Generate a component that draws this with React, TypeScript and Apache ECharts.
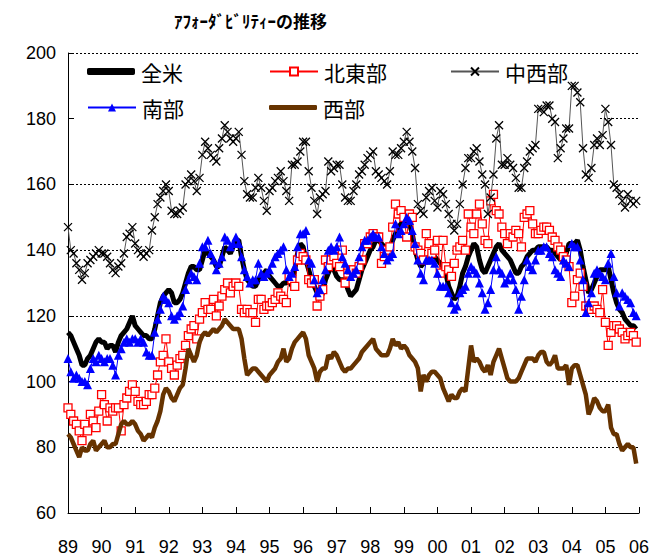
import React, { useEffect, useRef } from "react";
import * as echarts from "echarts";

const START_YEAR = 1989;
const END_YEAR = 2006;
const monthCount = 204;
const months: number[] = Array.from({ length: monthCount }, (_, i) => START_YEAR + i / 12);

const yTicks = { min: 60, max: 200, interval: 20 };

const seriesNames = ["全米", "北東部", "中西部", "南部", "西部"];

const us = [
  115, 114, 112, 110, 108, 105, 105, 107, 108, 110, 112, 113,
  112, 112, 110, 111, 111, 109, 112, 114, 115, 116, 118, 120,
  117, 116, 115, 114, 114, 113, 113, 116, 120, 124, 126, 127,
  128, 127, 124, 124, 125, 127, 130, 133, 135, 135, 134, 134,
  137, 140, 139, 138, 137, 135, 135, 138, 141, 140, 139, 141,
  143, 143, 138, 134, 131, 130, 129, 129, 131, 132, 133, 134,
  132, 131, 130, 129, 129, 130, 130, 131, 129, 134, 139, 142,
  141, 137, 134, 131, 129, 127, 125, 127, 131, 133, 135, 134,
  132, 131, 131, 131, 128, 126, 127, 128, 131, 134, 136, 138,
  140, 141, 143, 143, 142, 141, 141, 141, 143, 145, 147, 148,
  149, 149, 148, 145, 140, 137, 135, 136, 137, 138, 138, 138,
  137, 136, 135, 133, 129, 127, 125, 126, 129, 133, 135, 138,
  140, 142, 141, 137, 134, 133, 135, 137, 139, 141, 142, 140,
  139, 138, 137, 135, 133, 133, 135, 136, 138, 139, 140, 140,
  141, 141, 141, 141, 140, 140, 139, 138, 137, 138, 139, 142,
  142, 142, 143, 140, 135, 131, 127, 128, 130, 132, 134, 134,
  134, 135, 131, 127, 124, 122, 121, 119, 118, 117, 117, 116,
];

const northeast = [
  92, 90, 88, 87, 85, 82, 87, 85, 90, 88, 86, 91,
  96, 93, 88, 92, 91, 92, 92, 85, 93, 95, 97, 99,
  97, 94, 93, 93, 94, 96, 96, 98, 102, 106, 108, 113,
  106, 104, 102, 105, 107, 108, 111, 114, 116, 117, 113, 119,
  121, 124, 122, 122, 125, 120, 123, 126, 128, 130, 127, 129,
  130, 129, 122, 121, 122, 121, 121, 118, 125, 125, 122, 123,
  123, 124, 125, 127, 126, 125, 124, 132, 131, 129, 137, 139,
  138, 137, 131, 130, 131, 123, 126, 128, 137, 135, 137, 138,
  136, 135, 140, 130, 133, 134, 134, 133, 135, 137, 142, 142,
  144, 145, 144, 144, 136, 138, 140, 141, 147, 154, 151, 152,
  150, 144, 151, 150, 141, 140, 139, 137, 145, 142, 139, 140,
  143, 133, 143, 135, 134, 132, 136, 140, 141, 143, 140, 151,
  147, 145, 151, 154, 148, 143, 142, 155, 157, 152, 151, 147,
  145, 142, 145, 144, 146, 145, 141, 150, 151, 152, 148, 145,
  145, 146, 147, 147, 146, 144, 143, 141, 140, 138, 137, 135,
  124, 126, 131, 133, 129, 123, 122, 122, 123, 122, 121, 128,
  118, 111, 115, 117, 117, 116, 115, 113, 114, 115, 114, 112,
];

const midwest = [
  147, 140, 139, 136, 134, 131, 133, 136, 137, 138, 139, 140,
  139, 139, 138, 136, 134, 133, 135, 136, 139, 144, 145, 147,
  142, 140, 139, 138, 139, 140, 146, 150, 154, 156, 158, 160,
  158, 152, 151, 151, 152, 153, 160, 161, 163, 161, 158, 162,
  169, 173, 171, 169, 168, 167, 171, 174, 178, 176, 174, 173,
  174, 176, 169, 161, 157, 156, 156, 159, 162, 159, 155, 152,
  158, 159, 161, 162, 164, 161, 158, 155, 166, 166, 167, 170,
  173, 173, 164, 159, 155, 151, 156, 157, 158, 167, 164, 165,
  166, 166, 160, 156, 155, 155, 158, 160, 163, 164, 166, 168,
  169, 170, 164, 163, 162, 161, 160, 164, 170, 169, 169, 171,
  173, 176, 173, 170, 165, 154, 152, 151, 156, 158, 159, 155,
  153, 158, 157, 154, 151, 148, 146, 148, 154, 160, 165, 168,
  168, 170, 171, 167, 163, 160, 151, 156, 163, 174, 178, 166,
  166, 168, 166, 165, 162, 159, 159, 165, 167, 170, 171, 172,
  183, 183, 182, 184, 184, 180, 179, 168, 171, 174, 177, 177,
  190, 190, 188, 185, 171, 163, 162, 165, 172, 174, 172, 175,
  183, 179, 172, 160, 159, 157, 155, 153, 157, 155, 154, 155,
];

const south = [
  107, 103, 101, 102, 101, 100, 100, 99, 104, 107, 106, 108,
  107, 106, 107, 107, 105, 102, 108, 110, 112, 113, 112, 113,
  113, 112, 113, 112, 109, 108, 108, 115, 119, 122, 126, 125,
  124, 120, 119, 120, 121, 123, 128, 131, 133, 132, 131, 136,
  141, 141, 143, 139, 137, 134, 136, 138, 144, 143, 141, 142,
  144, 142, 138, 134, 132, 130, 131, 131, 136, 133, 132, 133,
  134, 136, 138, 139, 140, 141, 134, 132, 133, 135, 141, 145,
  145, 146, 137, 136, 131, 127, 128, 131, 134, 140, 141, 140,
  141, 144, 138, 136, 134, 132, 133, 134, 138, 141, 143, 143,
  144, 145, 144, 144, 141, 139, 137, 138, 139, 148, 145, 146,
  148, 150, 149, 146, 142, 137, 133, 131, 137, 137, 137, 136,
  133, 129, 129, 129, 127, 124, 122, 123, 127, 128, 129, 133,
  135, 134, 133, 130, 127, 122, 124, 128, 134, 138, 134, 133,
  130, 131, 133, 131, 128, 122, 126, 131, 137, 135, 134, 137,
  140, 140, 141, 141, 139, 138, 134, 133, 132, 137, 136, 135,
  142, 141, 141, 137, 131, 121, 124, 127, 133, 134, 133, 132,
  131, 136, 139, 132, 127, 123, 127, 126, 125, 124, 121, 120,
];

const west = [
  84, 83, 81, 79, 77, 80, 79, 79, 81, 82, 79, 80,
  81, 82, 80, 80, 81, 81, 84, 87, 88, 87, 87, 88,
  87, 85, 84, 82, 83, 84, 83, 86, 88, 91, 96, 98,
  97, 95, 94, 96, 98, 99, 104, 110, 108, 106, 108, 112,
  114, 115, 114, 115, 116, 115, 116, 117, 119, 118, 117, 116,
  116, 116, 113, 107, 102, 103, 104, 104, 103, 102, 101, 100,
  102, 103, 104, 106, 107, 110, 106, 107, 110, 112, 113, 114,
  115, 113, 108, 106, 104, 100, 103, 104, 104, 108, 107, 109,
  108, 106, 104, 103, 104, 104, 105, 106, 107, 109, 110, 111,
  112, 113, 110, 109, 108, 108, 108, 110, 113, 111, 112, 110,
  111, 110, 108, 107, 106, 104, 97, 102, 100, 102, 103, 103,
  102, 101, 98, 96, 94, 96, 95, 95, 97, 98, 97, 104,
  111, 106, 107, 106, 104, 103, 105, 102, 106, 108, 110, 107,
  104, 101, 100, 100, 100, 101, 103, 105, 107, 107, 107, 106,
  108, 109, 109, 106, 105, 106, 108, 104, 104, 104, 105, 99,
  104, 105, 105, 102, 99, 96, 90, 92, 95, 94, 92, 91,
  91, 93, 86, 84, 84, 81, 79, 80, 81, 80, 80, 75,
];

const titleText = "ｱﾌｫｰﾀﾞﾋﾞﾘﾃｨｰの推移";

const pair = (vals: number[]) => vals.map((v, i) => [months[i], v]);

const CJK = '"Noto Sans CJK JP", "Noto Sans", sans-serif';
const LAT = '"Liberation Sans", Arial, sans-serif';

export default function App() {
  const ref = useRef<HTMLDivElement>(null);
  useEffect(() => {
    if (!ref.current) return;
    const chart = echarts.init(ref.current, undefined, { renderer: "svg" });
    const legendBase = {
      orient: "horizontal",
      padding: 0,
      itemWidth: 48,
      itemHeight: 10,
      itemGap: 0,
      textStyle: { fontFamily: CJK, fontSize: 21, color: "#000", padding: [0, 0, 0, 1] },
      selectedMode: false,
    };
    chart.setOption({
      animation: false,
      backgroundColor: "#fff",
      title: {
        text: titleText,
        left: 169,
        top: 7,
        textStyle: { fontFamily: CJK, fontSize: 17, fontWeight: "bold", color: "#000" },
      },
      grid: { left: 68, top: 53, right: 26, bottom: 46, containLabel: false },
      graphic: [
        {
          type: "rect",
          left: 74,
          top: 56,
          z: 1,
          shape: { width: 526, height: 67 },
          style: { fill: "#fff" },
        },
      ],
      legend: [
        {
          ...legendBase,
          data: [{ name: seriesNames[0], icon: "roundRect" }],
          left: 87,
          top: 61,
          itemHeight: 7,
          itemStyle: { color: "#000" },
        },
        { ...legendBase, data: [seriesNames[1]], left: 269, top: 61 },
        { ...legendBase, data: [seriesNames[2]], left: 450, top: 61 },
        { ...legendBase, data: [seriesNames[3]], left: 87, top: 97 },
        {
          ...legendBase,
          data: [{ name: seriesNames[4], icon: "roundRect" }],
          left: 269,
          top: 97,
          itemHeight: 5,
          itemStyle: { color: "#663300" },
        },
      ],
      xAxis: {
        type: "value",
        min: START_YEAR,
        max: END_YEAR,
        interval: 1,
        axisLine: { show: true, lineStyle: { color: "#000", width: 1 } },
        axisTick: { show: true, inside: true, length: 6, lineStyle: { color: "#000" } },
        splitLine: { show: false },
        axisLabel: {
          margin: 25,
          fontFamily: LAT,
          fontSize: 18,
          color: "#000",
          formatter: (v: number) => String(Math.round(v) % 100).padStart(2, "0"),
        },
      },
      yAxis: {
        type: "value",
        min: yTicks.min,
        max: yTicks.max,
        interval: yTicks.interval,
        axisLine: { show: true, lineStyle: { color: "#000", width: 1 } },
        axisTick: { show: true, inside: true, length: 5, lineStyle: { color: "#000" } },
        splitLine: { show: true, lineStyle: { color: "#000", type: [2, 2], width: 1 } },
        axisLabel: { margin: 12, fontFamily: LAT, fontSize: 18, color: "#000" },
      },
      series: [
        {
          name: seriesNames[0],
          type: "line",
          data: pair(us),
          symbol: "none",
          lineStyle: { color: "#000", width: 5 },
          itemStyle: { color: "#000" },
          z: 3,
        },
        {
          name: seriesNames[1],
          type: "line",
          data: pair(northeast),
          symbol: "rect",
          symbolSize: 8,
          showSymbol: true,
          lineStyle: { color: "#ff0000", width: 1 },
          itemStyle: { color: "#fff", borderColor: "#ff0000", borderWidth: 1.3 },
          z: 4,
        },
        {
          name: seriesNames[2],
          type: "line",
          data: pair(midwest),
          symbol: "path://M0,0L10,10M10,0L0,10",
          symbolSize: 8,
          showSymbol: true,
          lineStyle: { color: "#555", width: 1 },
          itemStyle: { color: "#000", borderColor: "#000", borderWidth: 1.3 },
          z: 5,
        },
        {
          name: seriesNames[3],
          type: "line",
          data: pair(south),
          symbol: "triangle",
          symbolSize: 9,
          showSymbol: true,
          lineStyle: { color: "#0000ff", width: 1 },
          itemStyle: { color: "#0000ff" },
          z: 6,
        },
        {
          name: seriesNames[4],
          type: "line",
          data: pair(west),
          symbol: "none",
          lineStyle: { color: "#663300", width: 4.5 },
          itemStyle: { color: "#663300" },
          z: 7,
        },
      ],
    });
    return () => chart.dispose();
  }, []);
  return <div ref={ref} style={{ width: 665, height: 559, position: "absolute", left: 0, top: 0 }} />;
}
